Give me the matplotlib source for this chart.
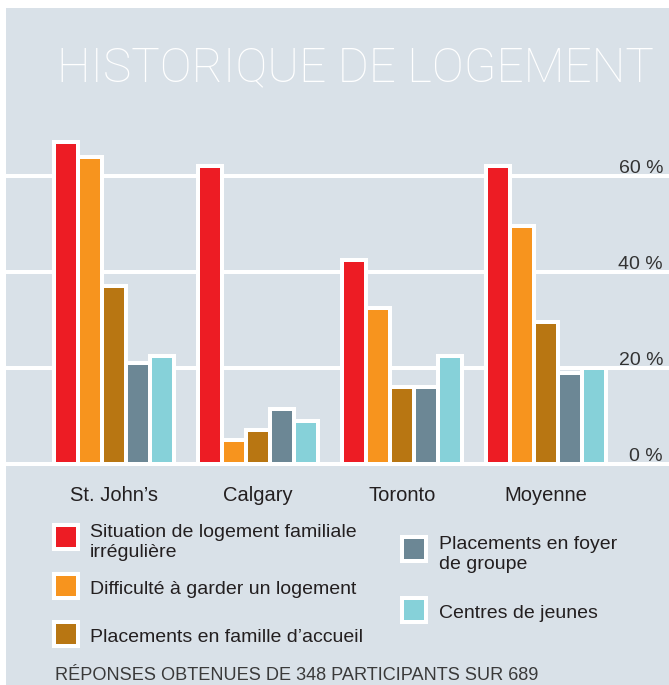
import numpy as np
import matplotlib
matplotlib.use("Agg")
import matplotlib.pyplot as plt
from matplotlib.patches import Rectangle

# data
cities = ["St. John’s", "Calgary", "Toronto", "Moyenne"]
series = ["Situation de logement familiale\nirrégulière",
          "Difficulté à garder un logement",
          "Placements en famille d’accueil",
          "Placements en foyer\nde groupe",
          "Centres de jeunes"]
irregular = [67, 62, 42.5, 62]
keep_home = [64, 5, 32.5, 49.5]
foster = [37, 7, 16, 29.5]
group_home = [21, 11.5, 16, 19]
youth = [22.5, 9, 22.5, 20]
ticks = [0, 20, 40, 60]
tick_labels = ["0 %", "20 %", "40 %", "60 %"]
title = "HISTORIQUE DE LOGEMENT"
note = "RÉPONSES OBTENUES DE 348 PARTICIPANTS SUR 689"

colors = ["#ed1c24", "#f7941e", "#b87612", "#6c8795", "#86d1d9"]
bg = "#d9e1e8"
ink = "#231f20"

plt.rcParams['font.family'] = ['Liberation Sans', 'DejaVu Sans']

W, H = 669, 685
fig = plt.figure(figsize=(W / 100, H / 100), dpi=100, facecolor="white")

def fx(x):
    return x / W

def fy(y):
    return 1 - y / H

def fit(t, width):
    # rescale a text so it spans the given pixel width
    fig.canvas.draw()
    w = t.get_window_extent().width
    t.set_fontsize(t.get_fontsize() * width / w)

# panel
fig.patches.append(Rectangle((fx(6), 0), 1 - fx(6), fy(8), transform=fig.transFigure,
                             facecolor=bg, edgecolor="none", zorder=-1))

tt = fig.text(fx(57), fy(81), title, ha="left", va="baseline", fontsize=36,
              family="Roboto", weight="light", color="white")
fit(tt, 655 - 57)

# axes: 0 % at y=464 px, 4.8 px per %, groups every 144 px starting at 114
ppu = 4.8
ax = fig.add_axes([fx(6), fy(464 + ppu), 1 - fx(6), 71 * ppu / H])
ax.set_zorder(1)
ax.set_xlim((6 - 114) / 144, (669 - 114) / 144)
ax.set_ylim(-1, 70)
ax.axis("off")

lw = 4 * 0.72
for t in ticks:
    ax.axhline(t, color="white", lw=lw, zorder=1)

x = np.arange(len(cities))
width = 1 / 6
for i, vals in enumerate([irregular, keep_home, foster, group_home, youth]):
    ax.bar(x + (i - 2) * width, vals, width, color=colors[i], edgecolor="white",
           linewidth=lw, zorder=2)

xr = (663 - 114) / 144
for t, lab in zip(ticks, tick_labels):
    ax.text(xr, t + 0.7, lab, ha="right", va="baseline", fontsize=14, color="#333333")

for i, c in enumerate(cities):
    ax.text(x[i], (464 - 501) / ppu, c, ha="center", va="baseline", fontsize=14.5,
            color=ink, clip_on=False)

# legend, two columns
sq_x = [66, 66, 66, 414, 414]
sq_y = [537, 586, 633.5, 549, 609.5]
tx = [90, 90, 90, 439, 439]
for i, lab in enumerate(series):
    cx, cy = sq_x[i], sq_y[i]
    fig.patches.append(Rectangle((fx(cx - 14), fy(cy + 14)), 28 / W, 28 / H,
                                 transform=fig.transFigure, facecolor="white",
                                 edgecolor="none", zorder=2))
    fig.patches.append(Rectangle((fx(cx - 10), fy(cy + 10)), 20 / W, 20 / H,
                                 transform=fig.transFigure, facecolor=colors[i],
                                 edgecolor="none", zorder=3))
    lines = lab.split("\n")
    b0 = cy + 8 - 8 * (len(lines) - 1)
    for k, ln in enumerate(lines):
        fig.text(fx(tx[i]), fy(b0 + 20 * k), ln, ha="left", va="baseline",
                 fontsize=14, color=ink)

nt = fig.text(fx(55), fy(680), note, ha="left", va="baseline", fontsize=12.5,
              color="#3a3a3a")
fit(nt, 538 - 55)

fig.savefig("out.png", dpi=100, facecolor="white")
